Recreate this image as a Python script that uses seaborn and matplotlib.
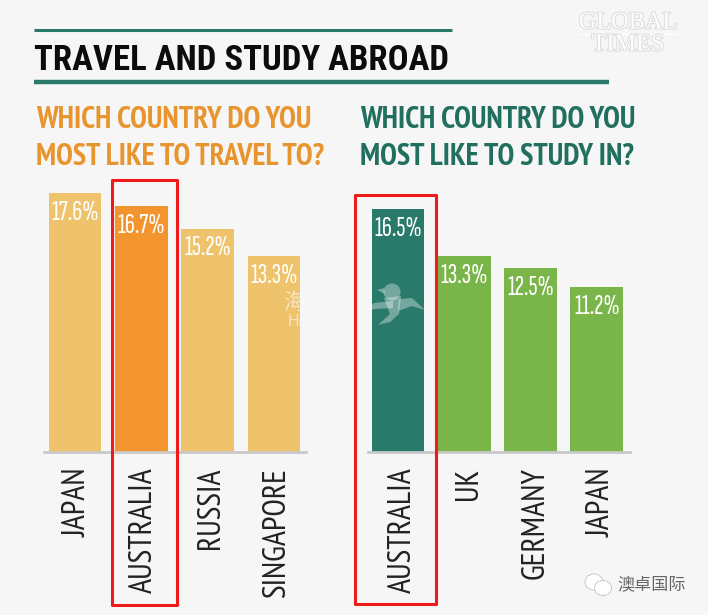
import matplotlib.pyplot as plt
import seaborn as sns
import pandas as pd
from matplotlib.patches import Rectangle, Ellipse, Polygon
from matplotlib.transforms import ScaledTranslation
import matplotlib.patheffects as pe

# values
travel_countries = ['JAPAN', 'AUSTRALIA', 'RUSSIA', 'SINGAPORE']
travel_values = [17.6, 16.7, 15.2, 13.3]
study_countries = ['AUSTRALIA', 'UK', 'GERMANY', 'JAPAN']
study_values = [16.5, 13.3, 12.5, 11.2]

BG = '#f6f6f6'
TEAL = '#2a7a6c'
TEAL_TEXT = '#21705f'
ORANGE = '#e8952f'
W, H = 708, 615
TITLE_FONT = ['Roboto Condensed', 'Roboto', 'DejaVu Sans']
SUB_FONT = ['PT Sans Narrow', 'Roboto', 'DejaVu Sans']
LABEL_FONT = ['PT Sans Narrow', 'Roboto', 'DejaVu Sans']
PCT_FONT = ['Sofia Sans Extra Condensed', 'Roboto', 'DejaVu Sans']

sns.set_theme(style='white')
plt.rcParams['font.family'] = ['Roboto', 'DejaVu Sans']

fig = plt.figure(figsize=(W / 100, H / 100), dpi=100, facecolor=BG)


def px_axes(x0, x1, y_top, y_bottom):
    return fig.add_axes([x0 / W, 1 - y_bottom / H, (x1 - x0) / W, (y_bottom - y_top) / H])


def fx(x):
    return x / W


def fy(y):
    return 1 - y / H


def draw_bars(ax, countries, values, colors, xlim, label_shift):
    df = pd.DataFrame({'country': countries, 'value': values})
    sns.barplot(data=df, x='country', y='value', hue='country', palette=colors,
                legend=False, width=0.795, saturation=1, edgecolor='none', ax=ax)
    ax.set_ylim(0, 18.5)
    ax.set_xlim(*xlim)
    ax.set_facecolor('none')
    ax.set_xlabel('')
    ax.set_ylabel('')
    ax.set_yticks([])
    sns.despine(ax=ax, left=True)
    ax.spines['bottom'].set_color('#c9c9c9')
    ax.spines['bottom'].set_linewidth(2)
    ax.tick_params(axis='x', length=0, pad=11)
    ax.set_xticks(range(len(countries)))
    ax.set_xticklabels(countries, rotation=90, fontsize=23, color='#222222', family=LABEL_FONT)
    # the labels sit a little right of the bar centres
    for lab in ax.get_xticklabels():
        lab.set_transform(lab.get_transform() + ScaledTranslation(label_shift / 100, 0, fig.dpi_scale_trans))
    for i, v in enumerate(values):
        ax.text(i, v - 0.5, '%.1f%%' % v, color='white', fontsize=20, family=PCT_FONT,
                ha='center', va='top')


ax1 = px_axes(44, 306, 180, 452)
draw_bars(ax1, travel_countries, travel_values, ['#efc36b', '#f2952f', '#efc36b', '#efc36b'], (-0.468, 3.485), 3)
ax2 = px_axes(368, 630, 180, 452)
draw_bars(ax2, study_countries, study_values, ['#2a7a6c', '#7ab54a', '#7ab54a', '#7ab54a'], (-0.452, 3.5), 5)

# header rules
fig.add_artist(plt.Line2D([fx(34), fx(452)], [fy(29.5)] * 2, color=TEAL, lw=2.2, solid_capstyle='butt'))
fig.add_artist(plt.Line2D([fx(34), fx(609)], [fy(82)] * 2, color=TEAL, lw=3.2, solid_capstyle='butt'))

fig.text(fx(34), fy(60.5), 'TRAVEL AND STUDY ABROAD', fontsize=25, weight='bold',
         family=TITLE_FONT, color='#0c0c0c', va='center')
for x, col, lines in [(36, ORANGE, ['WHICH COUNTRY DO YOU', 'MOST LIKE TO TRAVEL TO?']),
                      (360, TEAL_TEXT, ['WHICH COUNTRY DO YOU', 'MOST LIKE TO STUDY IN?'])]:
    fig.text(fx(x), fy(120), lines[0], fontsize=21.8, weight='bold', family=SUB_FONT, color=col, va='center')
    fig.text(fx(x), fy(157), lines[1], fontsize=21.8, weight='bold', family=SUB_FONT, color=col, va='center')

# red highlight boxes
for x0, x1, y0, y1 in [(112, 177, 180, 605), (355, 436, 195, 604)]:
    fig.add_artist(Rectangle((fx(x0), fy(y1)), (x1 - x0) / W, (y1 - y0) / H, fill=False,
                             ec='#f01a1a', lw=2.2, transform=fig.transFigure,
                             joinstyle='round', zorder=5))

# watermarks
shadow = [pe.withStroke(linewidth=1.5, foreground='#dcdcdc')]
fig.text(fx(628), fy(23), 'GLOBAL', family='Liberation Serif', fontsize=17.5, color='white',
         ha='center', va='center', path_effects=shadow)
fig.text(fx(628), fy(45), 'TIMES', family='Liberation Serif', fontsize=17.5, color='white',
         ha='center', va='center', path_effects=shadow)
fig.add_artist(plt.Line2D([fx(580), fx(677)], [fy(34)] * 2, color='white', lw=1))
fig.text(fx(316), fy(302), '海那边', family=['Noto Sans CJK SC'], fontsize=16, color='#fbfbfb', alpha=0.6,
         ha='center', va='center')
fig.text(fx(319), fy(321), 'Hinabian', family='Liberation Sans', fontsize=11.5, color='#fbfbfb', alpha=0.6,
         ha='center', va='center')

# bird mark on the teal bar
bird_head = Ellipse((fx(392), fy(292)), 17 / W, 17 / H)
bird_parts = [[(384, 288), (377, 290), (385, 294)],
              [(384, 298), (401, 296), (399, 314), (390, 322), (378, 325), (390, 314)],
              [(362, 312), (374, 303), (393, 301), (393, 308), (375, 309)],
              [(399, 299), (412, 298), (425, 310), (412, 306), (398, 311)]]
fig.add_artist(bird_head)
bird_head.set(transform=fig.transFigure, fc='white', ec='none', alpha=0.35)
for part in bird_parts:
    fig.add_artist(Polygon([(fx(a), fy(b)) for a, b in part], transform=fig.transFigure,
                           fc='white', ec='none', alpha=0.35))

# chat icon and account name bottom right
for cx, cy, rx, ry in [(594, 582, 18, 16), (603, 588, 17, 15)]:
    fig.add_artist(Ellipse((fx(cx), fy(cy)), rx / W, ry / H, fc='white', ec='#aaaaaa', lw=0.7,
                           ls=(0, (1.5, 1)), transform=fig.transFigure))
fig.text(fx(652), fy(584), '澳卓国际', family=['Noto Sans CJK SC'], fontsize=12.3, color='#666666',
         ha='center', va='center')

fig.savefig('out.png', dpi=100, facecolor=BG)
